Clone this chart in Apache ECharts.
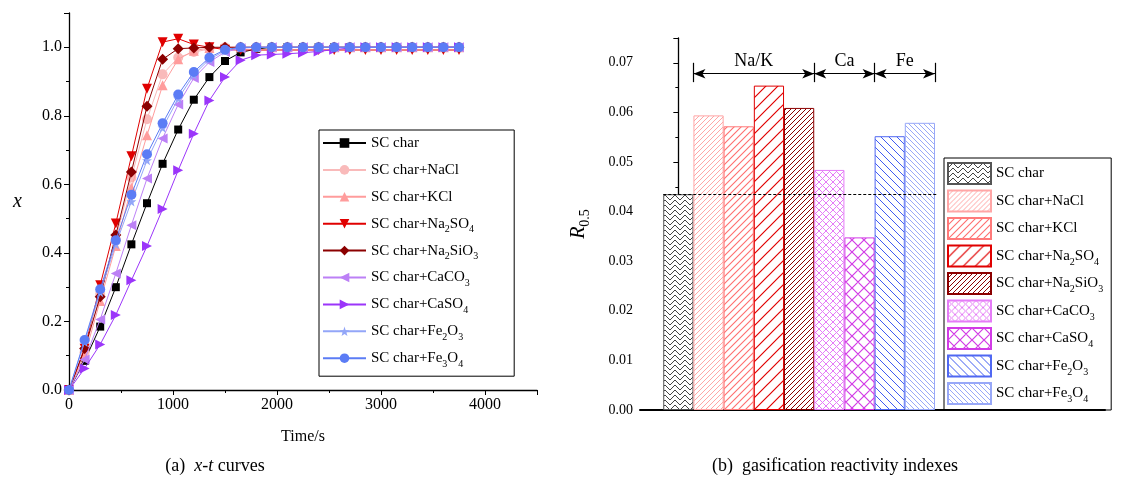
<!DOCTYPE html>
<html>
<head>
<meta charset="utf-8">
<script src="https://cdn.jsdelivr.net/npm/echarts@6/dist/echarts.min.js"></script>
<style>
  html, body { margin: 0; background: #fff; }
  #chart { width: 1126px; height: 477px; }
</style>
</head>
<body>
<div id="chart"></div>
<script>
// (a) x-t curves
const times = [0, 150, 300, 450, 600, 750, 900, 1050, 1200, 1350, 1500, 1650, 1800,
  1950, 2100, 2250, 2400, 2550, 2700, 2850, 3000, 3150, 3300, 3450, 3600, 3750];
const scChar = [0, 0.085, 0.185, 0.30, 0.425, 0.545, 0.66, 0.76, 0.847, 0.913, 0.96, 0.985, 0.995,
  1, 1, 1, 1, 1, 1, 1, 1, 1, 1, 1, 1, 1];
const naCl = [0, 0.11, 0.28, 0.44, 0.62, 0.79, 0.921, 0.97, 0.986, 0.995,
  1, 1, 1, 1, 1, 1, 1, 1, 1, 1, 1, 1, 1, 1, 1, 1];
const kCl = [0, 0.10, 0.26, 0.42, 0.59, 0.743, 0.889, 0.965, 0.99, 0.998,
  1, 1, 1, 1, 1, 1, 1, 1, 1, 1, 1, 1, 1, 1, 1, 1];
const na2so4 = [0, 0.12, 0.306, 0.486, 0.682, 0.879, 1.015, 1.025, 1.008, 1.0, 0.993, 0.992,
  0.992, 0.992, 0.992, 0.992, 0.992, 0.992, 0.992, 0.992, 0.992, 0.992, 0.992, 0.992, 0.992, 0.992];
const na2sio3 = [0, 0.121, 0.272, 0.452, 0.636, 0.828, 0.965, 0.996, 0.998,
  1, 1, 1, 1, 1, 1, 1, 1, 1, 1, 1, 1, 1, 1, 1, 1, 1];
const caco3 = [0, 0.089, 0.206, 0.34, 0.481, 0.617, 0.734, 0.833, 0.91, 0.957, 0.986, 0.997,
  1, 1, 1, 1, 1, 1, 1, 1, 1, 1, 1, 1, 1, 1];
const caso4 = [0, 0.063, 0.133, 0.219, 0.32, 0.42, 0.528, 0.641, 0.748, 0.845, 0.913, 0.962, 0.977,
  0.979, 0.981, 0.984, 0.988, 0.993, 0.998, 1, 1, 1, 1, 1, 1, 1];
const fe2o3 = [0, 0.14, 0.285, 0.425, 0.55, 0.67, 0.765, 0.85, 0.92, 0.965, 0.99,
  1, 1, 1, 1, 1, 1, 1, 1, 1, 1, 1, 1, 1, 1, 1];
const fe3o4 = [0, 0.146, 0.294, 0.437, 0.57, 0.688, 0.778, 0.862, 0.928, 0.97, 0.993,
  1, 1, 1, 1, 1, 1, 1, 1, 1, 1, 1, 1, 1, 1, 1];
const xTicks = [0, 1000, 2000, 3000, 4000];

// (b) gasification reactivity indexes
const barNames = ['SC char', 'SC char+NaCl', 'SC char+KCl', 'SC char+Na2SO4', 'SC char+Na2SiO3',
  'SC char+CaCO3', 'SC char+CaSO4', 'SC char+Fe2O3', 'SC char+Fe3O4'];
const r05 = [0.0435, 0.0594, 0.0572, 0.0654, 0.0609, 0.0484, 0.0348, 0.0552, 0.0579];
const groups = [['Na/K', 0.5, 4.5], ['Ca', 4.5, 6.5], ['Fe', 6.5, 8.5]];

const serif = 'Liberation Serif';
const lineSets = [scChar, naCl, kCl, na2so4, na2sio3, caco3, caso4, fe2o3, fe3o4];
const lineColors = ['#000000', '#F9BABA', '#FF9C9C', '#E00000', '#8B0000',
  '#BC80F6', '#9B35FA', '#93A6F8', '#5B7CF5'];
const lineSymbols = ['rect', 'circle', 'triangle',
  'path://M0,0L10,0L5,9Z', 'diamond', 'path://M0,5L9,0L9,10Z', 'path://M0,0L9,5L0,10Z',
  'path://M5,0L6.2,3.6L10,3.6L7,5.9L8.1,9.5L5,7.3L1.9,9.5L3,5.9L0,3.6L3.8,3.6Z', 'circle'];
const lineSizes = [8, 10, 10, 10, 11, 10, 10, 10, 10];

function hatch(color, size, kind, lw) {
  const c = document.createElement('canvas');
  c.width = size; c.height = size;
  const g = c.getContext('2d');
  const s = size;
  g.fillStyle = '#ffffff';
  g.fillRect(0, 0, s, s);
  g.strokeStyle = color;
  g.lineWidth = lw || 1;
  g.beginPath();
  if (kind === 'fwd' || kind === 'cross') {
    g.moveTo(-1, s + 1); g.lineTo(s + 1, -1);
    g.moveTo(-s / 2, s / 2); g.lineTo(s / 2, -s / 2);
    g.moveTo(s / 2, s * 1.5); g.lineTo(s * 1.5, s / 2);
  }
  if (kind === 'back' || kind === 'cross') {
    g.moveTo(-1, -1); g.lineTo(s + 1, s + 1);
    g.moveTo(-s / 2, s / 2); g.lineTo(s / 2, s * 1.5);
    g.moveTo(s / 2, -s / 2); g.lineTo(s * 1.5, s / 2);
  }
  if (kind === 'zig') {
    g.moveTo(0, s / 2); g.lineTo(s / 2, 0); g.lineTo(s, s / 2);
    g.moveTo(0, s); g.lineTo(s / 2, s / 2); g.lineTo(s, s);
  }
  g.stroke();
  return { image: c, repeat: 'repeat' };
}

const barStyles = [
  { fill: hatch('#444444', 10, 'zig', 1), border: '#555555' },
  { fill: hatch('#FFA6A6', 5, 'fwd', 1), border: '#FFA6A6' },
  { fill: hatch('#FF6E6E', 7, 'fwd', 1.1), border: '#FF7A7A' },
  { fill: hatch('#E00000', 12, 'fwd', 1.2), border: '#E00000' },
  { fill: hatch('#8B0000', 5, 'fwd', 1), border: '#8B0000' },
  { fill: hatch('#E57CF7', 7, 'cross', 1), border: '#E57CF7' },
  { fill: hatch('#D23BE6', 12, 'cross', 1.2), border: '#D23BE6' },
  { fill: hatch('#3F5BF2', 8, 'back', 1), border: '#5068F2' },
  { fill: hatch('#98A8F8', 5, 'back', 1), border: '#98A8F8' }
];

const legendRich = {
  s: { fontSize: 10, lineHeight: 10, verticalAlign: 'bottom', fontFamily: serif, color: '#000' }
};
function subFmt(name) {
  return name.trim().replace(/(\d)/g, '{s|$1}');
}

const series = [];
lineSets.forEach((arr, k) => {
  series.push({
    name: barNames[k],
    type: 'line',
    xAxisIndex: 0, yAxisIndex: 0,
    data: times.map((t, i) => [t, arr[i]]),
    symbol: lineSymbols[k],
    symbolSize: lineSizes[k],
    showAllSymbol: true,
    lineStyle: { color: lineColors[k], width: 1 },
    itemStyle: { color: lineColors[k] },
    emphasis: { disabled: true },
    z: 2 + k
  });
});

r05.forEach((v, k) => {
  const s = {
    name: barNames[k] + ' ',
    type: 'bar',
    xAxisIndex: 1, yAxisIndex: 1,
    data: [[k, v]],
    barWidth: 30.2,
    barGap: '-100%',
    itemStyle: { color: barStyles[k].fill, borderColor: barStyles[k].border, borderWidth: 1 },
    emphasis: { disabled: true }
  };
  if (k === 0) {
    s.markLine = {
      silent: true, symbol: ['none', 'none'],
      lineStyle: { color: '#000', type: [3, 2], width: 1 },
      label: { show: false },
      data: [[{ coord: [-0.5, v] }, { coord: [8.57, v] }]]
    };
  }
  if (k === 3) {
    const segs = [];
    groups.forEach(g => {
      segs.push([
        { name: g[0], coord: [g[1], 0.0678], symbol: 'arrow', symbolSize: [7, 12] },
        { coord: [g[2], 0.0678], symbol: 'arrow', symbolSize: [7, 12] }
      ]);
    });
    [0.5, 4.5, 6.5, 8.5].forEach(x => {
      segs.push([{ name: '', coord: [x, 0.0661] }, { coord: [x, 0.0700] }]);
    });
    s.markLine = {
      silent: true, symbol: ['none', 'none'],
      lineStyle: { color: '#000', type: 'solid', width: 1.2 },
      label: {
        show: true, position: 'middle', distance: 3,
        formatter: p => p.name || '',
        color: '#000', fontSize: 18, fontFamily: serif
      },
      data: segs
    };
  }
  series.push(s);
});

const axisLine = { lineStyle: { color: '#000', width: 1.3 } };

const option = {
  animation: false,
  backgroundColor: '#fff',
  title: [
    {
      text: '(a)  {i|x-t} curves',
      left: 210, top: 452, textAlign: 'center',
      textStyle: {
        fontSize: 18, fontWeight: 'normal', fontFamily: serif, color: '#000',
        rich: { i: { fontSize: 18, fontStyle: 'italic', fontFamily: serif, color: '#000' } }
      }
    },
    {
      text: '(b)  gasification reactivity indexes',
      left: 830, top: 452, textAlign: 'center',
      textStyle: { fontSize: 18, fontWeight: 'normal', fontFamily: serif, color: '#000' }
    }
  ],
  grid: [
    { left: 69, top: 13, width: 468, height: 377 },
    { left: 640, top: 38, width: 465, height: 372 }
  ],
  legend: [
    {
      data: barNames,
      orient: 'vertical', left: 319, top: 130,
      padding: [2, 36, 7, 3],
      itemWidth: 43, itemHeight: 12, itemGap: 4.9,
      borderColor: '#000', borderWidth: 1,
      selectedMode: false,
      formatter: subFmt,
      textStyle: { fontSize: 15, lineHeight: 22, fontFamily: serif, color: '#000', rich: legendRich }
    },
    {
      data: barNames.map(n => n + ' '),
      orient: 'vertical', left: 944, top: 158,
      padding: [4, 8, 5, 3],
      itemWidth: 43, itemHeight: 21, itemGap: 4.5,
      borderColor: '#000', borderWidth: 1,
      selectedMode: false,
      icon: 'rect',
      formatter: subFmt,
      textStyle: { fontSize: 15, lineHeight: 22, fontFamily: serif, color: '#000', rich: legendRich }
    }
  ],
  xAxis: [
    {
      gridIndex: 0, type: 'value', min: 0, max: 4500, interval: 1000,
      name: 'Time/s', nameLocation: 'middle', nameGap: 39,
      nameTextStyle: { fontSize: 16, fontFamily: serif, color: '#000' },
      axisLine: axisLine,
      axisTick: { inside: false, length: 5, lineStyle: { color: '#000' } },
      minorTick: { show: true, splitNumber: 2, length: 3, lineStyle: { color: '#000' } },
      splitLine: { show: false },
      axisLabel: {
        fontSize: 16, fontFamily: serif, color: '#000', margin: 7, showMaxLabel: false,
        formatter: v => (xTicks.indexOf(v) >= 0 ? String(v) : '')
      }
    },
    {
      gridIndex: 1, type: 'value', min: -1.27, max: 14.13,
      axisLine: { onZero: false, lineStyle: { color: '#000', width: 2 } },
      axisTick: { show: false },
      axisLabel: { show: false },
      splitLine: { show: false }
    }
  ],
  yAxis: [
    {
      gridIndex: 0, type: 'value', min: 0, max: 1.1, interval: 0.2,
      name: 'x', nameLocation: 'middle', nameGap: 47, nameRotate: 0,
      nameTextStyle: { fontSize: 20, fontStyle: 'italic', fontFamily: serif, color: '#000' },
      axisLine: axisLine,
      axisTick: { inside: false, length: 5, lineStyle: { color: '#000' } },
      minorTick: { show: true, splitNumber: 2, length: 3, lineStyle: { color: '#000' } },
      splitLine: { show: false },
      axisLabel: {
        fontSize: 16, fontFamily: serif, color: '#000', margin: 7, showMaxLabel: false,
        formatter: v => v.toFixed(1)
      }
    },
    {
      gridIndex: 1, type: 'value', min: 0, max: 0.075, interval: 0.01,
      name: '{i|R}{s|0.5}', nameLocation: 'middle', nameGap: 48,
      nameTextStyle: {
        fontSize: 20, fontFamily: serif, color: '#000',
        rich: {
          i: { fontSize: 20, fontStyle: 'italic', fontFamily: serif, color: '#000', lineHeight: 26 },
          s: { fontSize: 14, fontFamily: serif, color: '#000', lineHeight: 14, verticalAlign: 'bottom' }
        }
      },
      axisLine: axisLine,
      axisTick: { inside: false, length: 5, lineStyle: { color: '#000' } },
      minorTick: { show: true, splitNumber: 2, length: 3, lineStyle: { color: '#000' } },
      splitLine: { show: false },
      axisLabel: {
        fontSize: 14, fontFamily: serif, color: '#000', margin: 7, showMaxLabel: false,
        formatter: v => v.toFixed(2)
      }
    }
  ],
  series: series
};

const chart = echarts.init(document.getElementById('chart'));
chart.setOption(option);
</script>
</body>
</html>
